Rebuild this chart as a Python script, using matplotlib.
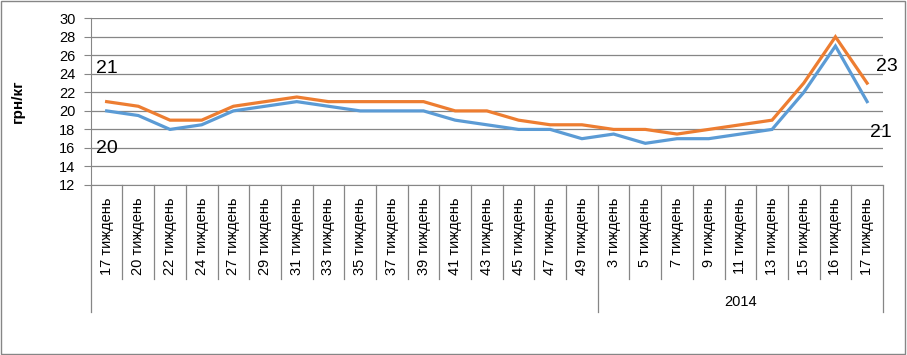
import matplotlib.pyplot as plt
import numpy as np
import matplotlib

matplotlib.rcParams['font.family'] = ['Liberation Sans', 'DejaVu Sans']

weeks = ['17', '20', '22', '24', '27', '29', '31', '33', '35', '37', '39', '41', '43',
         '45', '47', '49', '3', '5', '7', '9', '11', '13', '15', '16', '17']
x_labels = [w + ' тиждень' for w in weeks]
group_sizes = [16, 9]
group_names = ['', '2014']

blue_vals = [20, 19.5, 18, 18.5, 20, 20.5, 21, 20.5, 20, 20, 20, 19, 18.5,
             18, 18, 17, 17.5, 16.5, 17, 17, 17.5, 18, 22, 27, 21]
orange_vals = [21, 20.5, 19, 19, 20.5, 21, 21.5, 21, 21, 21, 21, 20, 20,
               19, 18.5, 18.5, 18, 18, 17.5, 18, 18.5, 19, 23, 28, 23]

blue = '#5B9BD5'
orange = '#ED7D31'
gray = '#868686'

fig = plt.figure(figsize=(9.07, 3.55), dpi=100)
ax = fig.add_axes([0.1001, 0.4789, 0.8734, 0.4696])

x = np.arange(len(weeks))
ax.plot(x, blue_vals, color=blue, lw=2.3, solid_joinstyle='miter', zorder=3)
ax.plot(x, orange_vals, color=orange, lw=2.3, solid_joinstyle='miter', zorder=3)

ax.set_xlim(-0.5, len(weeks) - 0.5)
ax.set_ylim(12, 30)
ax.set_yticks(np.arange(12, 31, 2))
ax.grid(axis='y', color=gray, lw=0.9)
ax.set_axisbelow(True)
for s in ['top', 'right']:
    ax.spines[s].set_visible(False)
ax.spines['left'].set_color(gray)
ax.spines['bottom'].set_color(gray)
ax.tick_params(axis='y', length=5, color=gray, pad=6, labelsize=10.5)
ax.set_ylabel('грн/кг', fontsize=11, fontweight='bold', labelpad=25)

ax.set_xticks(x)
ax.set_xticklabels(x_labels, rotation=90, va='top', ha='center', fontsize=10.5)
ax.tick_params(axis='x', length=0, pad=9)

# category boundary lines below the axis
trans = ax.get_xaxis_transform()
bounds = np.arange(len(weeks) + 1) - 0.5
group_edges = np.concatenate([[0], np.cumsum(group_sizes)]) - 0.5
for b in bounds:
    bottom = -0.76 if b in group_edges else -0.564
    ax.plot([b, b], [0, bottom], color=gray, lw=0.9, transform=trans, clip_on=False)
for i, name in enumerate(group_names):
    mid = (group_edges[i] + group_edges[i + 1]) / 2
    ax.text(mid, -0.70, name, transform=trans, ha='center', va='center', fontsize=10.5)

# point labels
ax.annotate('21', (0, orange_vals[0]), xytext=(0, 24), textcoords='offset points',
            ha='center', va='center', fontsize=14)
ax.annotate('20', (0, blue_vals[0]), xytext=(0, -27), textcoords='offset points',
            ha='center', va='center', fontsize=14)
ax.annotate('23', (x[-1], orange_vals[-1]), xytext=(14, 12), textcoords='offset points',
            ha='center', va='center', fontsize=14)
ax.annotate('21', (x[-1], blue_vals[-1]), xytext=(10, -22), textcoords='offset points',
            ha='center', va='center', fontsize=14)

# chart border
fig.patches.append(plt.Rectangle((0.001, 0.002), 0.997, 0.995, transform=fig.transFigure,
                                 fill=False, edgecolor=gray, lw=1))

plt.savefig('out.png', dpi=100)
